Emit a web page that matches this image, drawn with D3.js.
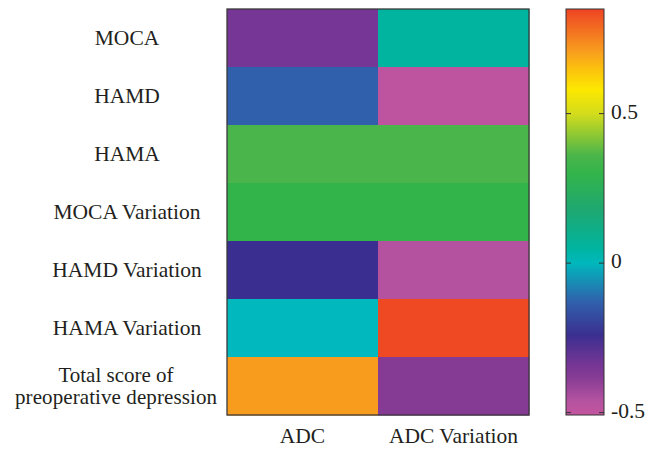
<!DOCTYPE html>
<html>
<head>
<meta charset="utf-8">
<script src="https://cdn.jsdelivr.net/npm/d3@7"></script>
<style>
  body { margin: 0; background: #fff; }
</style>
</head>
<body>
<svg width="658" height="449"></svg>
<script>
const rows = ['MOCA', 'HAMD', 'HAMA', 'MOCA Variation', 'HAMD Variation', 'HAMA Variation', 'Total score of preoperative depression'];
const cols = ['ADC', 'ADC Variation'];
// correlation values, one array per column
const adcValues = [-0.34, -0.13, 0.36, 0.30, -0.24, 0.00, 0.71];
const adcVarValues = [0.05, -0.49, 0.36, 0.30, -0.46, 0.84, -0.38];
const cbTicks = [0.5, 0, -0.5];
// colour map stops
const stopValues = [-0.51, -0.46, -0.38, -0.34, -0.24, -0.13, 0.0, 0.05, 0.18, 0.30, 0.36, 0.50, 0.58, 0.66, 0.71, 0.85];
const stopColors = ['#c4559f', '#b452a0', '#853b94', '#763695', '#3a2f90', '#3060ac', '#00b8bd', '#00b49f',
    '#1fa870', '#33b44b', '#4ab54a', '#d4dc1c', '#fde800', '#fbbb10', '#f89c1e', '#ee4324'];

const FONT = "'Liberation Serif', 'DejaVu Serif', serif";
const svg = d3.select('svg');

const color = d3.scaleLinear()
    .domain(stopValues)
    .range(stopColors)
    .clamp(true);

const x = d3.scaleBand().domain(cols).range([227, 529]);
const y = d3.scaleBand().domain(rows).range([9, 415]);

const cells = [];
rows.forEach((r, i) => {
    cells.push({ row: r, col: cols[0], v: adcValues[i] });
    cells.push({ row: r, col: cols[1], v: adcVarValues[i] });
});

svg.append('g')
    .selectAll('rect')
    .data(cells)
    .enter()
    .append('rect')
    .attr('x', d => x(d.col))
    .attr('y', d => y(d.row))
    .attr('width', x.bandwidth() + 0.5)
    .attr('height', y.bandwidth() + 0.5)
    .style('fill', d => color(d.v));

svg.append('rect')
    .attr('x', 227)
    .attr('y', 9)
    .attr('width', 302)
    .attr('height', 406)
    .style('fill', 'none')
    .style('stroke', '#3a3a3a')
    .style('stroke-width', 1.3);

function label(g, xx, yy, s, anchor, size) {
    return g.append('text')
        .attr('x', xx)
        .attr('y', yy)
        .attr('text-anchor', anchor || 'middle')
        .attr('font-family', FONT)
        .attr('font-size', size || 21.5)
        .attr('fill', '#231f20')
        .text(s);
}

// row labels
const rowLabels = svg.append('g');
rows.forEach(r => {
    const cy = y(r) + y.bandwidth() / 2;
    if (r.startsWith('Total')) {
        // two-line label, a bit smaller so the lines don't touch
        label(rowLabels, 116, cy - 4, 'Total score of', 'middle', 21);
        label(rowLabels, 116, cy + 18, 'preoperative depression', 'middle', 21).attr('textLength', 202);
    } else {
        label(rowLabels, 127, cy + 7, r);
    }
});

// column labels
const colLabels = svg.append('g');
cols.forEach(c => label(colLabels, x(c) + x.bandwidth() / 2, 443, c));

// colour bar
const cb = d3.scaleLinear().domain([-0.508, 0.85]).range([415, 9]);
const grad = svg.append('defs').append('linearGradient')
    .attr('id', 'cbGrad')
    .attr('x1', 0).attr('y1', 1).attr('x2', 0).attr('y2', 0);
stopValues.forEach((v, i) => {
    grad.append('stop')
        .attr('offset', (v - cb.domain()[0]) / (cb.domain()[1] - cb.domain()[0]))
        .attr('stop-color', stopColors[i]);
});

svg.append('rect')
    .attr('x', 566)
    .attr('y', 9)
    .attr('width', 38)
    .attr('height', 406)
    .style('fill', 'url(#cbGrad)')
    .style('stroke', '#333')
    .style('stroke-width', 1);

const tickG = svg.append('g');
cbTicks.forEach(t => {
    tickG.append('line').attr('x1', 566).attr('x2', 571).attr('y1', cb(t)).attr('y2', cb(t))
        .style('stroke', '#333').style('stroke-width', 1);
    tickG.append('line').attr('x1', 599).attr('x2', 604).attr('y1', cb(t)).attr('y2', cb(t))
        .style('stroke', '#333').style('stroke-width', 1);
    label(tickG, 611, cb(t) + 5, t, 'start');
});
</script>
</body>
</html>
